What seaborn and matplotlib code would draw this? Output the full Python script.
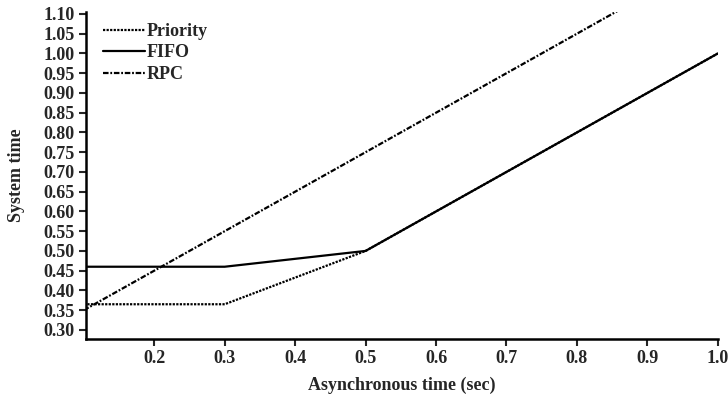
import matplotlib
matplotlib.use("Agg")
import matplotlib.pyplot as plt
import seaborn as sns
import pandas as pd

# data
priority_x = [0.1, 0.3, 0.5, 1.0]
priority_y = [0.365, 0.365, 0.50, 1.0]
fifo_x = [0.1, 0.3, 0.5, 1.0]
fifo_y = [0.46, 0.46, 0.50, 1.0]
rpc_x = [0.1, 0.86]
rpc_y = [0.35, 1.11]

xticks = [0.2, 0.3, 0.4, 0.5, 0.6, 0.7, 0.8, 0.9, 1.0]
yticks = [0.30, 0.35, 0.40, 0.45, 0.50, 0.55, 0.60, 0.65, 0.70, 0.75,
          0.80, 0.85, 0.90, 0.95, 1.00, 1.05, 1.10]

sns.set_style('ticks')
plt.rcParams['font.family'] = ['Liberation Serif', 'DejaVu Serif']
plt.rcParams['font.weight'] = 'bold'

fig = plt.figure(figsize=(7.28, 4.0), dpi=100)
ax = fig.add_axes([0.118, 0.1525, 0.868, 0.8175])

series = [
    ('Priority', priority_x, priority_y, (0, (1, 0.6))),
    ('FIFO', fifo_x, fifo_y, '-'),
    ('RPC', rpc_x, rpc_y, (0, (2.5, 0.8, 0.8, 0.8))),
]
for name, xs, ys, ls in series:
    df = pd.DataFrame({'x': xs, 'y': ys})
    sns.lineplot(data=df, x='x', y='y', ax=ax, color='black', linewidth=1.6,
                 linestyle=ls, label=name)

ax.set_xlim(0.103, 1.0)
ax.set_ylim(0.277, 1.105)
ax.set_xticks(xticks)
ax.set_xticklabels(['%.1f' % v for v in xticks])
ax.set_yticks(yticks)
ax.set_yticklabels(['%.2f' % v for v in yticks])
ax.tick_params(labelsize=13, width=1.5, length=5, direction='out', pad=3)
for lab in ax.get_xticklabels() + ax.get_yticklabels():
    lab.set_fontweight('bold')

for side in ['top', 'right']:
    ax.spines[side].set_visible(False)
for side in ['left', 'bottom']:
    ax.spines[side].set_linewidth(1.8)
    ax.spines[side].set_color('black')

ax.set_xlabel('Asynchronous time (sec)', fontsize=13, fontweight='bold', labelpad=7)
ax.set_ylabel('System time', fontsize=13, fontweight='bold', labelpad=13)

leg = ax.legend(loc='upper left', frameon=False, fontsize=13,
                handlelength=2.3, handletextpad=0.1, labelspacing=0.25,
                borderaxespad=0.2, bbox_to_anchor=(0.01, 1.0))
for t in leg.get_texts():
    t.set_fontweight('bold')

fig.savefig('out.png', dpi=100)
